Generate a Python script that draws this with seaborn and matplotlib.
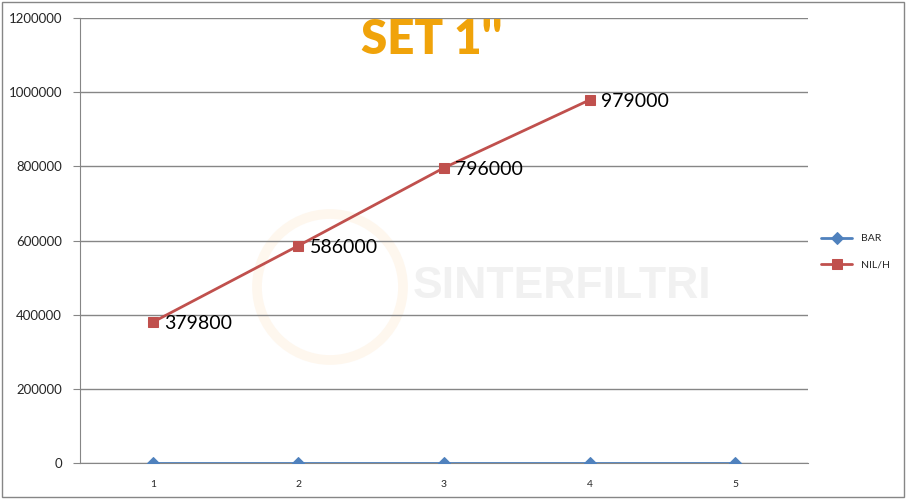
import pandas as pd
import seaborn as sns
import matplotlib.pyplot as plt
from matplotlib.patches import Rectangle, Ellipse

# Data
categories = [1, 2, 3, 4, 5]
bar_values = [0, 0, 0, 0, 0]
nilh_cats = [1, 2, 3, 4]
nilh_values = [379800, 586000, 796000, 979000]
y_ticks = [0, 200000, 400000, 600000, 800000, 1000000, 1200000]
title = "SET 1''"

df_bar = pd.DataFrame({"x": categories, "y": bar_values, "serie": "BAR"})
df_nil = pd.DataFrame({"x": nilh_cats, "y": nilh_values, "serie": "NIL/H"})

sns.set_style("white")
plt.rcParams["font.family"] = ["Lato", "DejaVu Sans"]

fig = plt.figure(figsize=(9.06, 5.0), dpi=100)
ax = fig.add_axes([0.0883, 0.074, 0.8035, 0.89])

# faint watermark behind the data (circle in pixel proportions)
ax.add_patch(Ellipse((330 / 906, 1 - 287 / 500), 146 / 906, 146 / 500, transform=fig.transFigure,
                     fill=False, edgecolor="#fef7ee", linewidth=7, zorder=0))
ax.text(562 / 906, 1 - 287 / 500, "SINTERFILTRI", transform=fig.transFigure, ha="center", va="center",
        fontsize=32, fontweight="bold", color="#f1f1f1", family="Liberation Sans", zorder=0)

sns.lineplot(data=df_bar, x="x", y="y", color="#4F81BD", marker="D", markersize=6,
             markeredgecolor="#4F81BD", linewidth=2, label="BAR", ax=ax, zorder=3)
sns.lineplot(data=df_nil, x="x", y="y", color="#C0504D", marker="s", markersize=7,
             markeredgecolor="#C0504D", linewidth=2, label="NIL/H", ax=ax, zorder=3)

for xv, yv in zip(nilh_cats, nilh_values):
    ax.annotate(f"{yv}", (xv, yv), xytext=(8, -1), textcoords="offset points",
                ha="left", va="center", fontsize=14, color="black")

ax.set_xlim(0.5, 5.5)
ax.set_ylim(0, 1200000)
ax.set_yticks(y_ticks)
ax.set_yticklabels([str(t) for t in y_ticks], fontsize=9.5)
ax.set_xticks(categories)
ax.set_xticklabels([str(c) for c in categories], fontsize=7.5)
ax.set_xticks([c + 0.5 for c in [0] + categories], minor=True)
ax.tick_params(axis="x", which="major", length=0, pad=12)
ax.tick_params(axis="x", which="minor", length=5, color="#868686", direction="out")
ax.tick_params(axis="y", length=5, color="#868686", direction="out", left=True, pad=8)
ax.set_xlabel("")
ax.set_ylabel("")

ax.yaxis.grid(True, color="#868686", linewidth=1)
ax.xaxis.grid(False)
for side in ["top", "right"]:
    ax.spines[side].set_visible(False)
ax.spines["left"].set_color("#868686")
ax.spines["bottom"].set_color("#868686")

ax.text(0.477, 0.92, title, transform=fig.transFigure, ha="center", va="center",
        fontsize=34, fontweight="heavy", color="#F0A30A")

leg = ax.legend(loc="center left", bbox_to_anchor=(1.005, 0.475), frameon=False,
                fontsize=7.5, handlelength=3, labelspacing=1.6)

fig.add_artist(Rectangle((0.002, 0.006), 0.996, 0.99, transform=fig.transFigure,
                         fill=False, edgecolor="#868686", linewidth=1))

fig.savefig("out.png", dpi=100)
